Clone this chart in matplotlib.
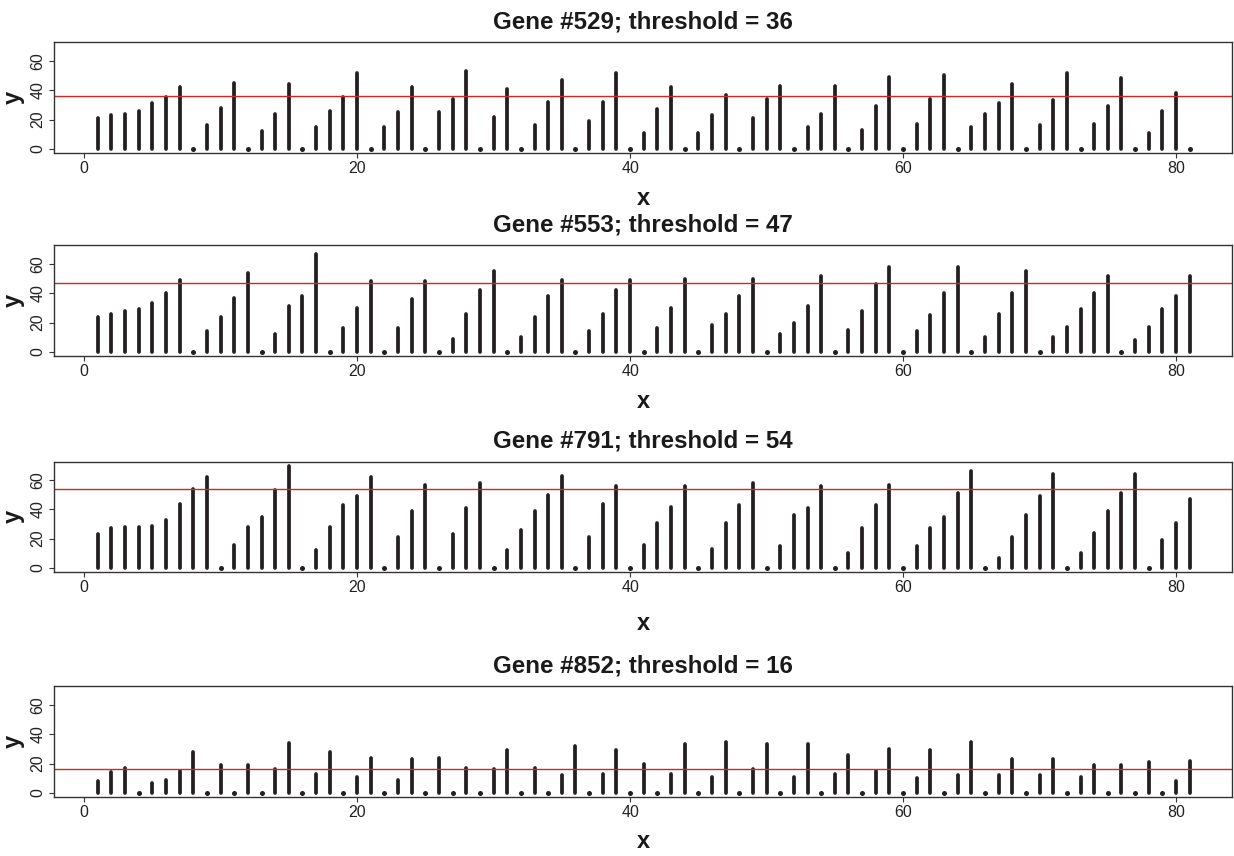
import numpy as np
import matplotlib
matplotlib.use("Agg")
from matplotlib import pyplot as plt

plt.rcParams["font.family"] = ["Liberation Sans", "DejaVu Sans"]

x = np.arange(1, 82)

gene_ids = [529, 553, 791, 852]
thresholds = [36, 47, 54, 16]

gene_529 = [21, 23, 24, 26, 31, 35, 42, 0, 16, 28, 45, 0, 12, 24, 44, 0, 15, 26, 35, 52,
            0, 15, 25, 42, 0, 25, 34, 53, 0, 22, 41, 0, 16, 32, 47, 0, 19, 32, 52, 0,
            11, 27, 42, 0, 11, 23, 37, 0, 21, 34, 43, 0, 15, 24, 43, 0, 13, 29, 49, 0,
            17, 34, 50, 0, 15, 24, 31, 44, 0, 16, 33, 52, 0, 17, 29, 48, 0, 11, 26, 38,
            0]
gene_553 = [24, 26, 28, 29, 33, 40, 49, 0, 14, 24, 37, 54, 0, 12, 31, 38, 67, 0, 16, 30,
            48, 0, 16, 36, 48, 0, 9, 26, 42, 55, 0, 10, 24, 38, 49, 0, 14, 26, 42, 49,
            0, 16, 30, 50, 0, 18, 26, 38, 50, 0, 12, 20, 31, 52, 0, 15, 28, 46, 58, 0,
            14, 25, 40, 58, 0, 10, 26, 40, 55, 0, 10, 17, 29, 40, 52, 0, 8, 17, 29, 38,
            52]
gene_791 = [23, 27, 28, 28, 29, 33, 44, 54, 62, 0, 16, 28, 35, 53, 70, 0, 12, 28, 43, 49,
            62, 0, 21, 39, 57, 0, 23, 41, 58, 0, 12, 26, 39, 50, 63, 0, 21, 44, 56, 0,
            16, 31, 42, 56, 0, 13, 31, 43, 58, 0, 15, 36, 41, 56, 0, 10, 27, 43, 57, 0,
            15, 27, 35, 51, 66, 0, 7, 21, 36, 49, 64, 0, 10, 24, 39, 51, 64, 0, 19, 31,
            47]
gene_852 = [8, 14, 17, 0, 7, 9, 15, 28, 0, 19, 0, 19, 0, 16, 34, 0, 13, 28, 0, 11,
            24, 0, 9, 23, 0, 24, 0, 17, 0, 16, 29, 0, 17, 0, 12, 32, 0, 13, 29, 0,
            20, 0, 13, 33, 0, 11, 35, 0, 16, 33, 0, 11, 33, 0, 13, 26, 0, 15, 30, 0,
            10, 29, 0, 12, 35, 0, 12, 23, 0, 12, 23, 0, 11, 19, 0, 19, 0, 21, 0, 8,
            22]
series = [gene_529, gene_553, gene_791, gene_852]

# axes boxes in figure fractions: [left, bottom, width, height]
boxes = [
    [0.0438, 0.8213, 0.9546, 0.1296],
    [0.0438, 0.5841, 0.9546, 0.1296],
    [0.0438, 0.3318, 0.9546, 0.1290],
    [0.0438, 0.0689, 0.9546, 0.1296],
]
xlabel_pads = [8, 8, 12, 7]
bar_color = "#231f20"
line_color = "#d42424"

fig = plt.figure(figsize=(12.34, 8.56), dpi=100)

for gid, thr, vals, box, lpad in zip(gene_ids, thresholds, series, boxes, xlabel_pads):
    ax = fig.add_axes(box)
    vals = np.asarray(vals)
    ax.vlines(x, 0, vals, colors=bar_color, linewidth=2.7, capstyle="round")
    zero = vals == 0
    ax.plot(x[zero], vals[zero], "o", color=bar_color, markersize=3.6,
            markeredgewidth=0)
    ax.axhline(thr, color=line_color, linewidth=1.0)

    ax.set_xlim(-2.2, 84.1)
    ax.set_ylim(-2.8, 72.8)
    ax.set_xticks([0, 20, 40, 60, 80])
    ax.set_yticks([0, 20, 40, 60])
    ax.tick_params(axis="both", labelsize=11.5, length=3.5, pad=2.5, color="#333333",
                   labelcolor="#222222")
    for lab in ax.get_yticklabels():
        lab.set_rotation(90)
        lab.set_va("center")
    for s in ax.spines.values():
        s.set_color("#333333")
        s.set_linewidth(1.0)

    ax.set_title(f"Gene #{gid}; threshold = {thr}", fontsize=17.4, fontweight="bold",
                 color="#1a1a1a", pad=10)
    ax.set_xlabel("x", fontsize=17, fontweight="bold", color="#1a1a1a", labelpad=lpad)
    ax.set_ylabel("y", fontsize=17, fontweight="bold", color="#1a1a1a", labelpad=4)

fig.savefig("out.png", dpi=100)
